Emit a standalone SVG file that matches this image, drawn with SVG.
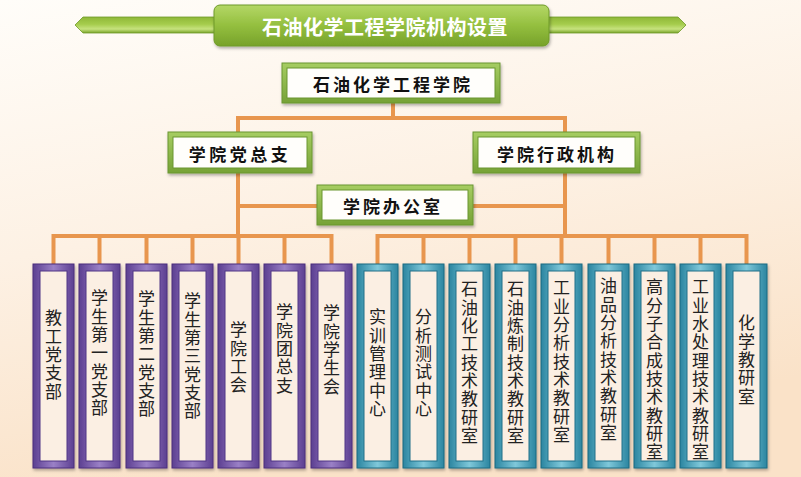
<svg xmlns="http://www.w3.org/2000/svg" width="801" height="477" viewBox="0 0 801 477">
<defs>
  <linearGradient id="bg" x1="0" y1="0" x2="0.3" y2="1">
    <stop offset="0" stop-color="#fffdf9"/>
    <stop offset="0.5" stop-color="#fdf1e4"/>
    <stop offset="1" stop-color="#fae2c8"/>
  </linearGradient>
  <linearGradient id="gTitle" x1="0" y1="0" x2="0" y2="1">
    <stop offset="0" stop-color="#b4d766"/>
    <stop offset="0.5" stop-color="#94bf3f"/>
    <stop offset="1" stop-color="#77a22a"/>
  </linearGradient>
  <linearGradient id="gBar" x1="0" y1="0" x2="0" y2="1">
    <stop offset="0" stop-color="#8fb838"/>
    <stop offset="0.45" stop-color="#a5cc4c"/>
    <stop offset="0.75" stop-color="#c6e27e"/>
    <stop offset="1" stop-color="#7aa52b"/>
  </linearGradient>
  <linearGradient id="gGreen" x1="0" y1="0" x2="0" y2="1">
    <stop offset="0" stop-color="#a6cd62"/>
    <stop offset="1" stop-color="#76a236"/>
  </linearGradient>
  <linearGradient id="gPurple" x1="0" y1="0" x2="1" y2="0">
    <stop offset="0" stop-color="#5c3f91"/>
    <stop offset="0.5" stop-color="#9a80c6"/>
    <stop offset="1" stop-color="#5c3f91"/>
  </linearGradient>
  <linearGradient id="gTeal" x1="0" y1="0" x2="1" y2="0">
    <stop offset="0" stop-color="#2a85a0"/>
    <stop offset="0.5" stop-color="#7fc8da"/>
    <stop offset="1" stop-color="#2a85a0"/>
  </linearGradient>
  <filter id="sh" x="-20%" y="-20%" width="140%" height="140%">
    <feDropShadow dx="1" dy="2" stdDeviation="1.5" flood-color="#000" flood-opacity="0.3"/>
  </filter>
</defs>
<style>
  .conn { stroke: #e8964e; stroke-width: 4; fill: none; stroke-linecap: square; }
  .gframe { fill: url(#gGreen); stroke: #6b9631; stroke-width: 1; filter: url(#sh); }
  .ginner { fill: #fffefb; stroke: #6b9631; stroke-width: 1; }
  .pframe { fill: url(#gPurple); stroke: #4a2f7c; stroke-width: 1; filter: url(#sh); }
  .pinner { fill: #fbefe3; stroke: #4f3585; stroke-width: 1; }
  .tframe { fill: url(#gTeal); stroke: #1d6a82; stroke-width: 1; filter: url(#sh); }
  .tinner { fill: #fbefe3; stroke: #1f6f88; stroke-width: 1; }
  .htxt { font-family: "Noto Sans CJK SC", "Noto Sans", sans-serif; font-size: 17px; font-weight: 700; fill: #111; text-anchor: middle; dominant-baseline: central; }
  .vtxt { font-family: "Noto Sans CJK SC", "Noto Sans", sans-serif; font-size: 17px; fill: #222; writing-mode: vertical-rl; text-orientation: upright; letter-spacing: 1.3px; text-anchor: start; }
  .title { font-family: "Noto Sans CJK SC", "Noto Sans", sans-serif; font-size: 20px; font-weight: 700; fill: #ffffff; text-anchor: middle; dominant-baseline: central; }
</style>
<rect x="0" y="0" width="801" height="477" fill="url(#bg)"/>

<g id="title-banner">
  <polygon points="75,25 83,17 216,17 216,33 83,33" fill="url(#gBar)" stroke="#6e9a28" stroke-width="0.8"/>
  <polygon points="546,17 678,17 686,25 678,33 546,33" fill="url(#gBar)" stroke="#6e9a28" stroke-width="0.8"/>
  <rect x="214" y="5" width="335" height="41" rx="6" fill="url(#gTitle)" stroke="#6e9a28" stroke-width="1" filter="url(#sh)"/>
  <text class="title" x="385" y="26" letter-spacing="0.5">石油化学工程学院机构设置</text>
</g>

<g id="connectors">
  <path class="conn" d="M393,103 V118 M238,118 H565 M238,118 V132 M565,118 V132"/>
  <path class="conn" d="M238,173 V236 M565,173 V236 M238,206 H317 M473,206 H565"/>
  <path class="conn" d="M53.5,236 H331.5 M53.5,236 V264 M99.5,236 V264 M146.5,236 V264 M192.5,236 V264 M238.5,236 V264 M284.5,236 V264 M331.5,236 V264"/>
  <path class="conn" d="M377.5,236 H746.5 M377.5,236 V264 M423.5,236 V264 M469.5,236 V264 M515.5,236 V264 M561.5,236 V264 M608.5,236 V264 M654.5,236 V264 M700.5,236 V264 M746.5,236 V264"/>
</g>

<g id="n-college">
  <rect class="gframe" x="282" y="63" width="218" height="40"/>
  <rect class="ginner" x="287" y="68" width="208" height="30"/>
  <text class="htxt" x="393" y="83" letter-spacing="3">石油化学工程学院</text>
</g>
<g id="n-party">
  <rect class="gframe" x="168" y="132" width="144" height="41"/>
  <rect class="ginner" x="173" y="137" width="134" height="31"/>
  <text class="htxt" x="240" y="153" letter-spacing="3.5">学院党总支</text>
</g>
<g id="n-admin">
  <rect class="gframe" x="473" y="132" width="167" height="41"/>
  <rect class="ginner" x="478" y="137" width="157" height="31"/>
  <text class="htxt" x="557" y="153" letter-spacing="3">学院行政机构</text>
</g>
<g id="n-office">
  <rect class="gframe" x="317" y="185" width="156" height="40"/>
  <rect class="ginner" x="322" y="190" width="146" height="30"/>
  <text class="htxt" x="393" y="205" letter-spacing="3">学院办公室</text>
</g>

<g id="p1">
  <rect class="pframe" x="33" y="264" width="41" height="204"/>
  <rect class="pinner" x="40" y="271" width="27" height="190"/>
  <text class="vtxt" x="53.5" y="309.5">教工党支部</text>
</g>
<g id="p2">
  <rect class="pframe" x="79" y="264" width="41" height="204"/>
  <rect class="pinner" x="86" y="271" width="27" height="190"/>
  <text class="vtxt" x="99.5" y="289.5">学生第一党支部</text>
</g>
<g id="p3">
  <rect class="pframe" x="126" y="264" width="41" height="204"/>
  <rect class="pinner" x="133" y="271" width="27" height="190"/>
  <text class="vtxt" x="146.5" y="290.5">学生第二党支部</text>
</g>
<g id="p4">
  <rect class="pframe" x="172" y="264" width="41" height="204"/>
  <rect class="pinner" x="179" y="271" width="27" height="190"/>
  <text class="vtxt" x="192.5" y="292.5">学生第三党支部</text>
</g>
<g id="p5">
  <rect class="pframe" x="218" y="264" width="41" height="204"/>
  <rect class="pinner" x="225" y="271" width="27" height="190"/>
  <text class="vtxt" x="238.5" y="321.5">学院工会</text>
</g>
<g id="p6">
  <rect class="pframe" x="264" y="264" width="41" height="204"/>
  <rect class="pinner" x="271" y="271" width="27" height="190"/>
  <text class="vtxt" x="284.5" y="303.5">学院团总支</text>
</g>
<g id="p7">
  <rect class="pframe" x="311" y="264" width="41" height="204"/>
  <rect class="pinner" x="318" y="271" width="27" height="190"/>
  <text class="vtxt" x="331.5" y="304.5">学院学生会</text>
</g>

<g id="t1">
  <rect class="tframe" x="357" y="264" width="41" height="204"/>
  <rect class="tinner" x="364" y="271" width="27" height="190"/>
  <text class="vtxt" x="377.5" y="308.5">实训管理中心</text>
</g>
<g id="t2">
  <rect class="tframe" x="403" y="264" width="41" height="204"/>
  <rect class="tinner" x="410" y="271" width="27" height="190"/>
  <text class="vtxt" x="423.5" y="308.5">分析测试中心</text>
</g>
<g id="t3">
  <rect class="tframe" x="449" y="264" width="41" height="204"/>
  <rect class="tinner" x="456" y="271" width="27" height="190"/>
  <text class="vtxt" x="469.5" y="280.5">石油化工技术教研室</text>
</g>
<g id="t4">
  <rect class="tframe" x="495" y="264" width="41" height="204"/>
  <rect class="tinner" x="502" y="271" width="27" height="190"/>
  <text class="vtxt" x="515.5" y="280.5">石油炼制技术教研室</text>
</g>
<g id="t5">
  <rect class="tframe" x="541" y="264" width="41" height="204"/>
  <rect class="tinner" x="548" y="271" width="27" height="190"/>
  <text class="vtxt" x="561.5" y="279.5">工业分析技术教研室</text>
</g>
<g id="t6">
  <rect class="tframe" x="588" y="264" width="41" height="204"/>
  <rect class="tinner" x="595" y="271" width="27" height="190"/>
  <text class="vtxt" x="608.5" y="277.5">油品分析技术教研室</text>
</g>
<g id="t7">
  <rect class="tframe" x="634" y="264" width="41" height="204"/>
  <rect class="tinner" x="641" y="271" width="27" height="190"/>
  <text class="vtxt" x="654.5" y="278.5">高分子合成技术教研室</text>
</g>
<g id="t8">
  <rect class="tframe" x="680" y="264" width="41" height="204"/>
  <rect class="tinner" x="687" y="271" width="27" height="190"/>
  <text class="vtxt" x="700.5" y="278.5">工业水处理技术教研室</text>
</g>
<g id="t9">
  <rect class="tframe" x="726" y="264" width="41" height="204"/>
  <rect class="tinner" x="733" y="271" width="27" height="190"/>
  <text class="vtxt" x="746.5" y="314.5">化学教研室</text>
</g>
</svg>
